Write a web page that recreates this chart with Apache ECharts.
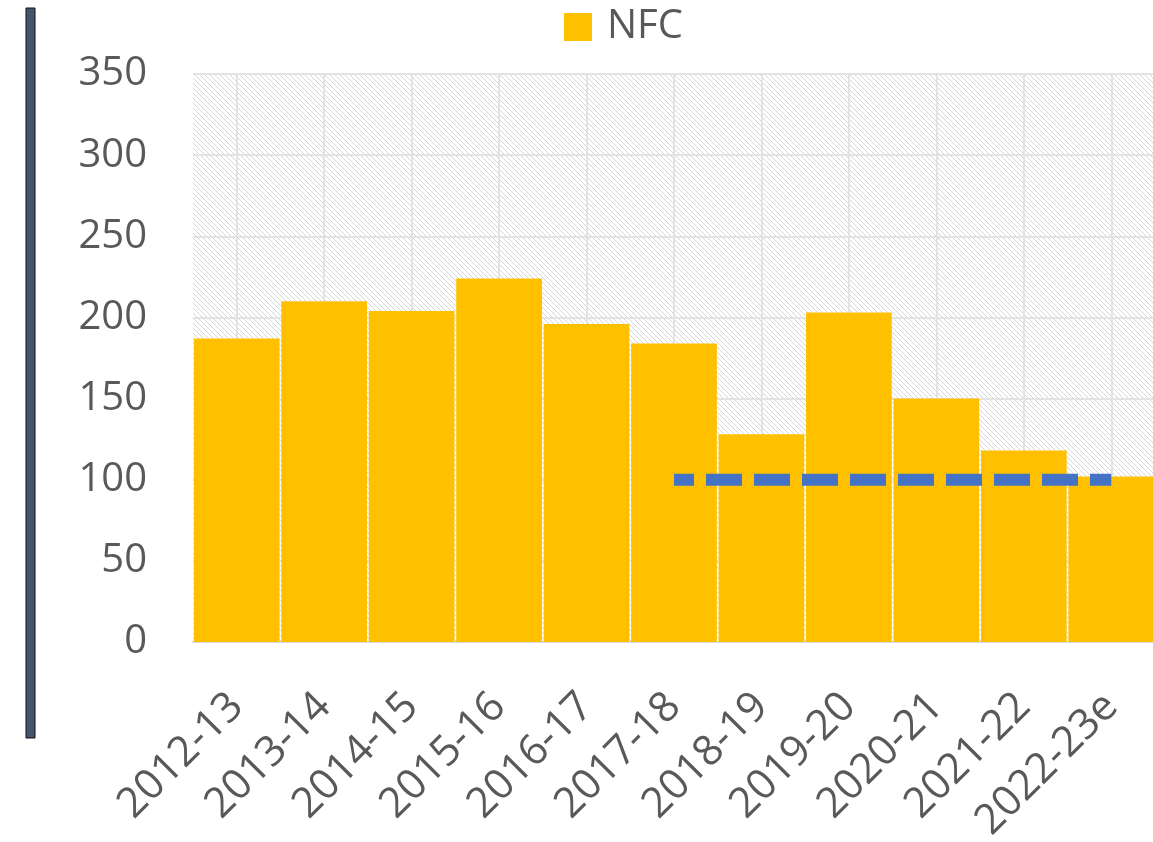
<!DOCTYPE html>
<html>
<head>
<meta charset="utf-8">
<title>NFC</title>
<script src="https://cdn.jsdelivr.net/npm/echarts@6/dist/echarts.min.js"></script>
<style>
    html, body { margin: 0; padding: 0; background: #fff; }
    #chart { width: 1153px; height: 842px; }
</style>
</head>
<body>
<div id="chart"></div>
<script>
    // data
    const years = ['2012-13', '2013-14', '2014-15', '2015-16', '2016-17', '2017-18',
        '2018-19', '2019-20', '2020-21', '2021-22', '2022-23e'];
    const nfc = [187, 210, 204, 224, 196, 184, 128, 203, 150, 118, 102];
    // dashed reference line, only drawn from 2017-18 on
    const refLine = [null, null, null, null, null, 100, 100, 100, 100, 100, 100];

    // hatched background for the plot area
    function hatch() {
        const c = document.createElement('canvas');
        c.width = 10; c.height = 10;
        const ctx = c.getContext('2d');
        ctx.fillStyle = '#ffffff';
        ctx.fillRect(0, 0, 10, 10);
        ctx.fillStyle = '#d6d6d6';
        for (let y = 0; y < 10; y++) {
            for (let x = 0; x < 10; x++) {
                if (((x - y) % 5 + 5) % 5 === 0) ctx.fillRect(x, y, 1, 1);
            }
        }
        return c;
    }

    const txt = '#595959';
    const font = 'Open Sans';

    const chart = echarts.init(document.getElementById('chart'));
    chart.setOption({
        animation: false,
        backgroundColor: '#fff',
        textStyle: { fontFamily: font },
        graphic: [{
            type: 'rect',
            shape: { x: 26, y: 8, width: 9, height: 730 },
            style: { fill: '#44546a', stroke: '#111', lineWidth: 1 }
        }],
        legend: {
            data: ['NFC'],
            left: 559,
            top: 2,
            icon: 'rect',
            itemWidth: 28,
            itemHeight: 28,
            itemGap: 14,
            textStyle: { color: txt, fontSize: 40, fontFamily: font, padding: [0, 0, 0, 10] }
        },
        grid: {
            left: 193,
            right: -2,
            top: 74,
            bottom: 200,
            outerBoundsMode: 'none',
            containLabel: false,
            show: true,
            borderWidth: 0,
            backgroundColor: { image: hatch(), repeat: 'repeat' }
        },
        xAxis: {
            type: 'category',
            data: years,
            axisLine: { lineStyle: { color: '#d9d9d9', width: 2 } },
            axisTick: { show: false },
            splitLine: { show: true, alignWithLabel: true, lineStyle: { color: '#e3e3e3', width: 2 } },
            axisLabel: {
                color: txt,
                fontSize: 42,
                fontFamily: font,
                rotate: 45,
                interval: 0,
                margin: 58
            }
        },
        yAxis: {
            type: 'value',
            min: 0,
            max: 350,
            interval: 50,
            axisLine: { show: false },
            axisTick: { show: false },
            splitLine: { lineStyle: { color: '#e3e3e3', width: 2 } },
            axisLabel: { color: txt, fontSize: 40, fontFamily: font, margin: 46 }
        },
        series: [{
            name: 'NFC',
            type: 'bar',
            data: nfc,
            barCategoryGap: '2%',
            itemStyle: { color: '#ffc000' }
        }, {
            name: 'ref',
            type: 'line',
            data: refLine,
            symbol: 'none',
            z: 5,
            lineStyle: { color: '#4472c4', width: 12, type: [36, 12], dashOffset: 16, cap: 'butt' }
        }]
    });
</script>
</body>
</html>
